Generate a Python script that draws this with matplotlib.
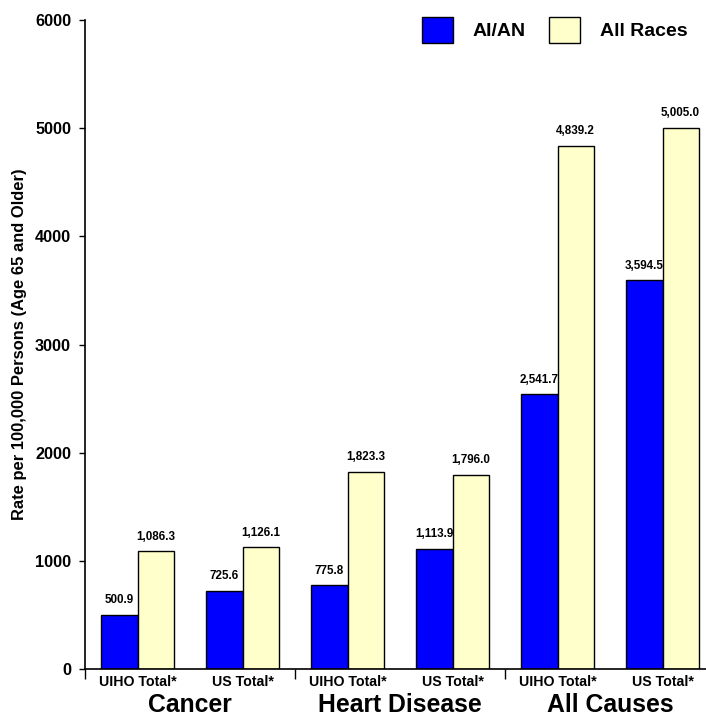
import matplotlib
matplotlib.use("Agg")
import matplotlib.pyplot as plt
import matplotlib.transforms as mtransforms
import numpy as np

plt.rcParams['font.family'] = ['Liberation Sans', 'DejaVu Sans']
plt.rcParams['font.weight'] = 'bold'

groups = ["UIHO Total*", "US Total*", "UIHO Total*", "US Total*", "UIHO Total*", "US Total*"]
categories = ["Cancer", "Heart Disease", "All Causes"]
aian = [500.9, 725.6, 775.8, 1113.9, 2541.7, 3594.5]
all_races = [1086.3, 1126.1, 1823.3, 1796.0, 4839.2, 5005.0]
series_names = ["AI/AN", "All Races"]
yticks = [0, 1000, 2000, 3000, 4000, 5000, 6000]

fig = plt.figure(figsize=(7.06, 7.17), dpi=100)
ax = fig.add_axes([85/706, 1-669/717, 621/706, 649/717])

x = np.arange(len(groups))
w = 0.343
b1 = ax.bar(x - w/2, aian, w, color='#0000FF', edgecolor='black', linewidth=1.0, label=series_names[0])
b2 = ax.bar(x + w/2, all_races, w, color='#FFFFCC', edgecolor='black', linewidth=1.0, label=series_names[1])

for bars in (b1, b2):
    ax.bar_label(bars, labels=[f"{v:,.1f}" for v in bars.datavalues], padding=6,
                 fontsize=8.4, fontweight='bold')

ax.set_xlim(-0.5, -0.5 + 621/105)
ax.set_ylim(0, 6000)
ax.set_yticks(yticks)
ax.set_yticklabels([str(t) for t in yticks], fontsize=11.7, fontweight='bold')
ax.tick_params(axis='y', direction='out', length=4, width=1, pad=6)

ax.set_xticks(x)
ax.set_xticklabels(groups, fontsize=10.2, fontweight='bold')
ax.tick_params(axis='x', which='major', length=0, pad=4)
ax.set_xticks([-0.5, 1.5, 3.5], minor=True)
ax.tick_params(axis='x', which='minor', direction='out', length=7, width=1)

for s in ['top', 'right']:
    ax.spines[s].set_visible(False)
for s in ['left', 'bottom']:
    ax.spines[s].set_linewidth(1.2)

ax.set_ylabel("Rate per 100,000 Persons (Age 65 and Older)", fontsize=11.9, fontweight='bold')
ax.yaxis.set_label_coords(-0.093, 0.5)

trans = mtransforms.blended_transform_factory(ax.transData, fig.transFigure)
for i, cat in enumerate(categories):
    ax.text(2*i + 0.5, 1 - 705/717, cat, transform=trans, ha='center', va='center',
            fontsize=17.8, fontweight='bold')

leg = ax.legend(loc='upper left', bbox_to_anchor=(422/706, 1 - 17/717), bbox_transform=fig.transFigure,
                ncol=2, frameon=False, prop={'weight': 'bold', 'size': 14},
                handlelength=1.6, handleheight=1.7, handletextpad=1.0, columnspacing=1.2,
                borderpad=0, borderaxespad=0)

fig.savefig("out.png", dpi=100)
